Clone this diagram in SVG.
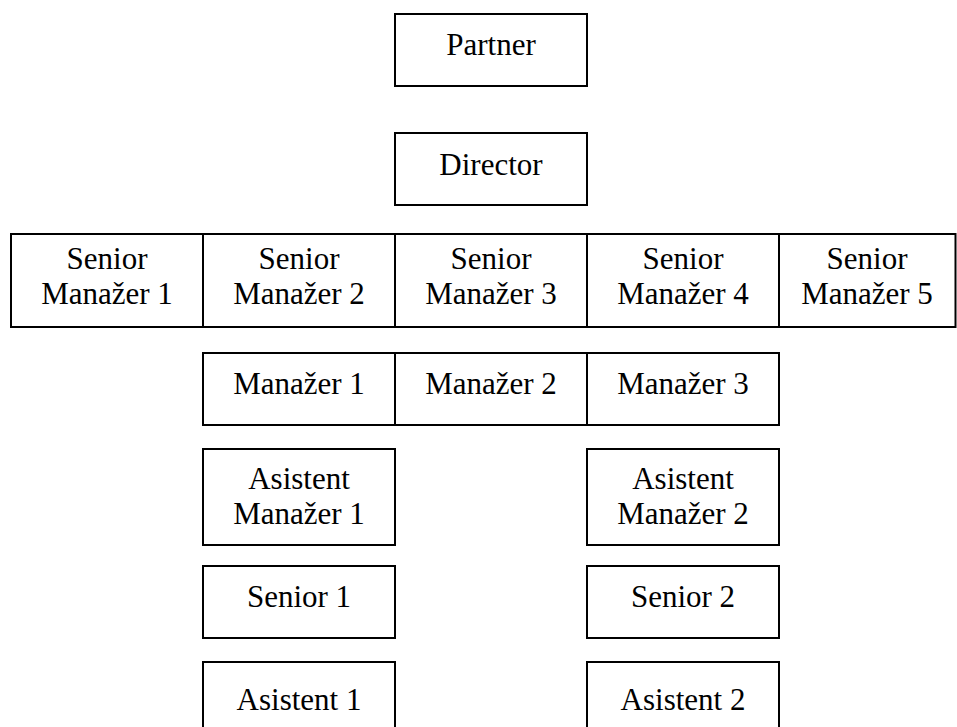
<svg xmlns="http://www.w3.org/2000/svg" width="957" height="727" viewBox="0 0 957 727">
  <style>
    .box { fill: #ffffff; stroke: #000000; stroke-width: 2; }
    .lbl { font-family: "Liberation Serif", "Times New Roman", serif; font-size: 31px; fill: #000000; text-anchor: middle; }
  </style>
  <rect width="957" height="727" fill="#ffffff"/>

  <g id="partner">
    <rect class="box" x="395" y="14" width="192" height="72"/>
    <text class="lbl" x="491" y="55">Partner</text>
  </g>
  <g id="director">
    <rect class="box" x="395" y="133" width="192" height="72"/>
    <text class="lbl" x="491" y="175">Director</text>
  </g>

  <g id="senior-manazer-1">
    <rect class="box" x="11" y="234" width="192" height="93"/>
    <text class="lbl" x="107" y="269">Senior</text>
    <text class="lbl" x="107" y="304">Manažer 1</text>
  </g>
  <g id="senior-manazer-2">
    <rect class="box" x="203" y="234" width="192" height="93"/>
    <text class="lbl" x="299" y="269">Senior</text>
    <text class="lbl" x="299" y="304">Manažer 2</text>
  </g>
  <g id="senior-manazer-3">
    <rect class="box" x="395" y="234" width="192" height="93"/>
    <text class="lbl" x="491" y="269">Senior</text>
    <text class="lbl" x="491" y="304">Manažer 3</text>
  </g>
  <g id="senior-manazer-4">
    <rect class="box" x="587" y="234" width="192" height="93"/>
    <text class="lbl" x="683" y="269">Senior</text>
    <text class="lbl" x="683" y="304">Manažer 4</text>
  </g>
  <g id="senior-manazer-5">
    <rect class="box" x="779" y="234" width="176.5" height="93"/>
    <text class="lbl" x="867" y="269">Senior</text>
    <text class="lbl" x="867" y="304">Manažer 5</text>
  </g>

  <g id="manazer-1">
    <rect class="box" x="203" y="353" width="192" height="72"/>
    <text class="lbl" x="299" y="394">Manažer 1</text>
  </g>
  <g id="manazer-2">
    <rect class="box" x="395" y="353" width="192" height="72"/>
    <text class="lbl" x="491" y="394">Manažer 2</text>
  </g>
  <g id="manazer-3">
    <rect class="box" x="587" y="353" width="192" height="72"/>
    <text class="lbl" x="683" y="394">Manažer 3</text>
  </g>

  <g id="asistent-manazer-1">
    <rect class="box" x="203" y="449" width="192" height="96"/>
    <text class="lbl" x="299" y="489">Asistent</text>
    <text class="lbl" x="299" y="524">Manažer 1</text>
  </g>
  <g id="asistent-manazer-2">
    <rect class="box" x="587" y="449" width="192" height="96"/>
    <text class="lbl" x="683" y="489">Asistent</text>
    <text class="lbl" x="683" y="524">Manažer 2</text>
  </g>

  <g id="senior-1">
    <rect class="box" x="203" y="566" width="192" height="72"/>
    <text class="lbl" x="299" y="607">Senior 1</text>
  </g>
  <g id="senior-2">
    <rect class="box" x="587" y="566" width="192" height="72"/>
    <text class="lbl" x="683" y="607">Senior 2</text>
  </g>

  <g id="asistent-1">
    <rect class="box" x="203" y="662" width="192" height="80"/>
    <text class="lbl" x="299" y="710">Asistent 1</text>
  </g>
  <g id="asistent-2">
    <rect class="box" x="587" y="662" width="192" height="80"/>
    <text class="lbl" x="683" y="710">Asistent 2</text>
  </g>

  <g id="connectors"/>
</svg>
